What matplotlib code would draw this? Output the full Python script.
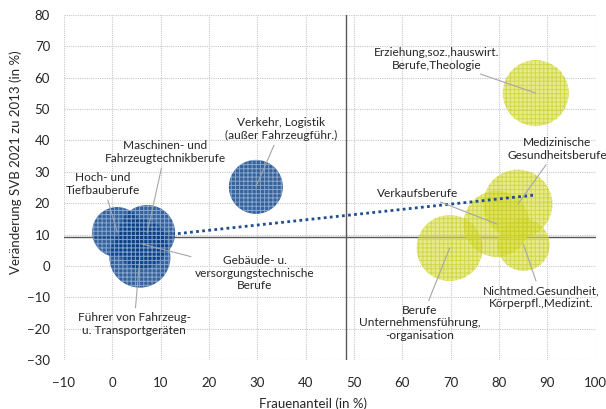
import matplotlib

matplotlib.use("Agg")
import matplotlib.pyplot as plt

# Berufshauptgruppen: Frauenanteil (x), Veränderung SVB 2021 zu 2013 (y), Blasengröße
BERUFE = [
    "Hoch- und\nTiefbauberufe",
    "Maschinen- und\nFahrzeugtechnikberufe",
    "Führer von Fahrzeug-\nu. Transportgeräten",
    "Gebäude- u.\nversorgungstechnische\nBerufe",
    "Verkehr, Logistik\n(außer Fahrzeugführ.)",
    "Erziehung,soz.,hauswirt.\nBerufe,Theologie",
    "Medizinische\nGesundheitsberufe",
    "Verkaufsberufe",
    "Nichtmed.Gesundheit,\nKörperpfl.,Medizint.",
    "Berufe\nUnternehmensführung,\n-organisation",
]
FRAUENANTEIL = [1.0, 7.2, 5.7, 6.1, 29.7, 87.6, 83.9, 79.5, 85.1, 69.8]
VERAENDERUNG = [10.8, 10.5, 2.8, 7.0, 25.2, 55.1, 19.7, 13.4, 6.7, 5.7]
BLASE = [625, 784, 930, 625, 729, 1089, 1190, 1089, 676, 1089]
FRAUENBERUF = [False, False, False, False, False, True, True, True, True, True]

# Position der Datenbeschriftungen
LABEL_X = [-1.9, 10.9, 4.5, 29.5, 34.9, 67.1, 92.1, 63.2, 88.8, 63.6]
LABEL_Y = [26.1, 36.3, -18.5, -2.3, 43.6, 66.0, 37.3, 23.2, -9.9, -18.2]

# Mittelwerte (Quadranten) und Trendlinie
MITTEL_FRAUENANTEIL = 48.3
MITTEL_VERAENDERUNG = 9.2
TREND_X = [1.0, 87.4]
TREND_Y = [8.2, 22.6]

BLUE = "#0a3f85"
BLUE_HATCH = "#9ab6da"
YELLOW = "#d8df3a"
YELLOW_HATCH = "#c3ca22"
TEXT = "#262626"

plt.rcParams["font.family"] = ["Lato", "DejaVu Sans"]
plt.rcParams["hatch.linewidth"] = 0.7

fig = plt.figure(figsize=(6.06, 4.09), dpi=100)
ax = fig.add_axes([0.1056, 0.1198, 0.8773, 0.8435])

ax.set_xlim(-10, 100)
ax.set_ylim(-30, 80)
ax.set_xticks(range(-10, 101, 10))
ax.set_yticks(range(-30, 81, 10))
ax.grid(True, color="#c8c8c8", linestyle=(0, (1, 1)), linewidth=0.8, zorder=0)
ax.set_axisbelow(True)
for sp in ax.spines.values():
    sp.set_visible(False)
ax.tick_params(length=0, labelsize=9.5, colors=TEXT)
ax.tick_params(axis="x", pad=12)
ax.tick_params(axis="y", pad=10)

ax.axvline(MITTEL_FRAUENANTEIL, color="#595959", linewidth=1.0, zorder=1)
ax.axhline(MITTEL_VERAENDERUNG, color="#595959", linewidth=1.0, zorder=1)

scale = (2 * 0.72) ** 2
for is_frauen, face, hatch_col, alpha, z in (
    (True, YELLOW, YELLOW_HATCH, 0.6, 2),
    (False, BLUE, BLUE_HATCH, 0.82, 4),
):
    idx = [i for i, f in enumerate(FRAUENBERUF) if f == is_frauen]
    ax.scatter(
        [FRAUENANTEIL[i] for i in idx],
        [VERAENDERUNG[i] for i in idx],
        s=[BLASE[i] * scale for i in idx],
        facecolors=face,
        edgecolors=hatch_col,
        linewidths=0,
        hatch="++++",
        alpha=alpha,
        zorder=z,
    )

ax.plot(TREND_X, TREND_Y, color="#1f4e8c", linewidth=2.0, linestyle=(0, (1, 1.2)), zorder=3)

for name, x, y, lx, ly in zip(BERUFE, FRAUENANTEIL, VERAENDERUNG, LABEL_X, LABEL_Y):
    ax.annotate(
        name,
        xy=(x, y),
        xytext=(lx, ly),
        ha="center",
        va="center",
        multialignment="center",
        fontsize=8.6,
        color=TEXT,
        zorder=6,
        annotation_clip=False,
        arrowprops=dict(arrowstyle="-", color="#a6a6a6", linewidth=0.8, shrinkA=1, shrinkB=0),
    )

ax.set_xlabel("Frauenanteil (in %)", fontsize=9.5, color=TEXT)
ax.set_ylabel("Veränderung SVB 2021 zu 2013 (in %)", fontsize=9.5, color=TEXT)
ax.xaxis.set_label_coords(0.468, -0.11)
ax.yaxis.set_label_coords(-0.079, 0.574)

fig.savefig("out.png", dpi=100)
